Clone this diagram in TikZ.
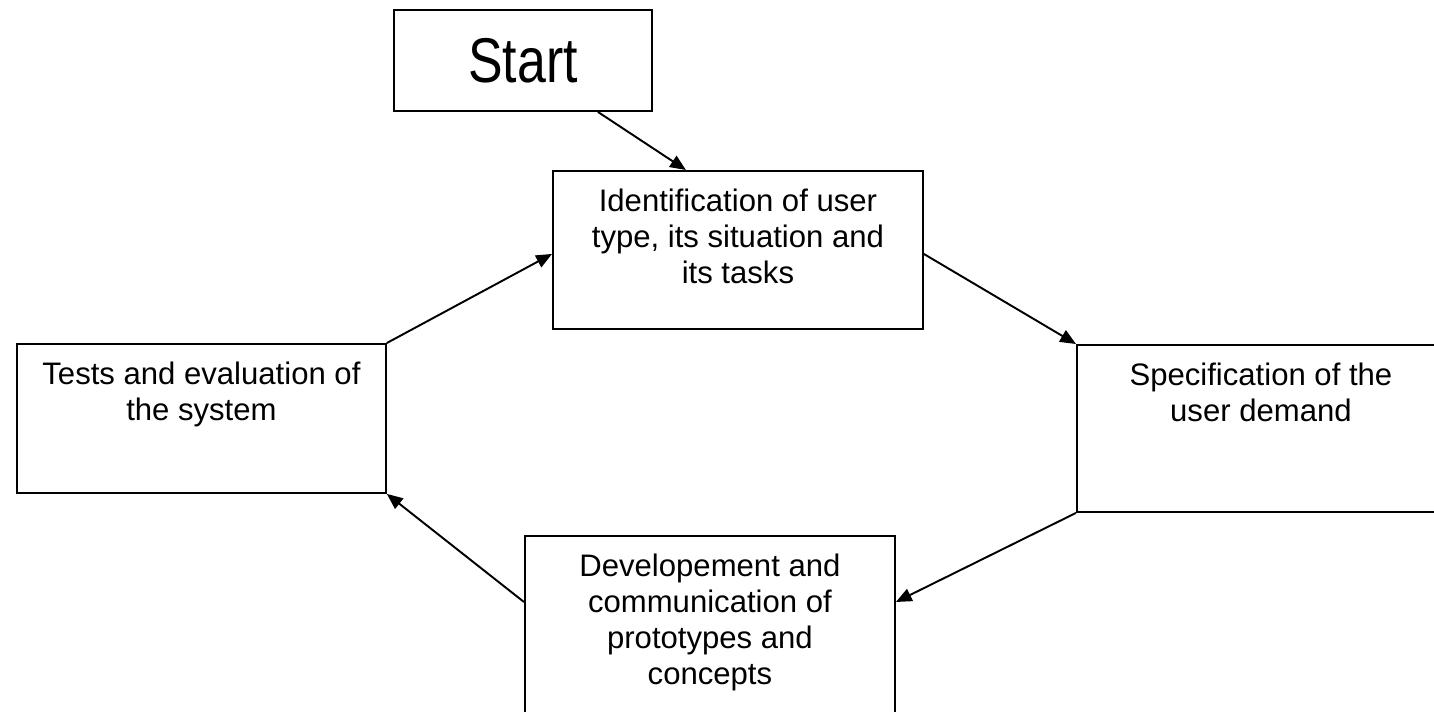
\documentclass[tikz,border=0pt]{standalone}
\usepackage{fontspec}
\setmainfont{Liberation Sans}
\usetikzlibrary{arrows.meta}

\newcommand{\boxText}[3]{\parbox[c][#2][t]{#1}{\centering\vspace*{0.36cm}#3}}

\begin{document}
\begin{tikzpicture}
[x=0.02cm,y=-0.02cm,
  startDecorate/.style={shape=rectangle,draw,line width=1.1pt,minimum width=5.16cm,
    minimum height=2.02cm,inner sep=0pt,anchor=north west,font=\fontsize{36}{40}\selectfont},%
  boxDecorate/.style={shape=rectangle,draw,line width=1.1pt,inner sep=0pt,anchor=north west,
    font=\fontsize{17.7}{20.5}\selectfont},%
  arrowDecorate/.style={-{Triangle[length=9pt,width=7.5pt]},line width=1.1pt}]
\useasboundingbox (0,0) rectangle (1434,711);
%% boxes
\node (start) at (393,9) [startDecorate] {\scalebox{0.82}[1]{Start}};
\node (ident) at (552,170) [boxDecorate]
  {\boxText{7.4cm}{3.16cm}{Identification of user\\ type, its situation and\\ its tasks}};
\node (spec) at (1076,344) [boxDecorate]
  {\boxText{7.36cm}{3.34cm}{Specification of the\\ user demand}};
\node (dev) at (524,535) [boxDecorate]
  {\boxText{7.4cm}{4.2cm}{Developement and\\ communication of\\ prototypes and\\ concepts}};
\node (tests) at (16,343) [boxDecorate]
  {\boxText{7.38cm}{2.98cm}{Tests and evaluation of\\ the system}};
%% ends of the arrows
\coordinate (startOut) at ([xshift=1.5cm]start.south);
\coordinate (identIn) at ([xshift=-1.04cm]ident.north);
\coordinate (identOut) at ([yshift=-0.08cm]ident.east);
\coordinate (identBack) at ([yshift=-0.08cm]ident.west);
\coordinate (devIn) at ([yshift=-1.34cm]dev.north east);
\coordinate (devOut) at ([yshift=-1.34cm]dev.north west);
%% arrows
\path
\foreach \startnode/\endnode in {startOut/identIn, identOut/spec.north west,
    spec.south west/devIn, devOut/tests.south east, tests.north east/identBack} {
  (\startnode) edge[arrowDecorate] (\endnode)
};
\end{tikzpicture}
\end{document}
